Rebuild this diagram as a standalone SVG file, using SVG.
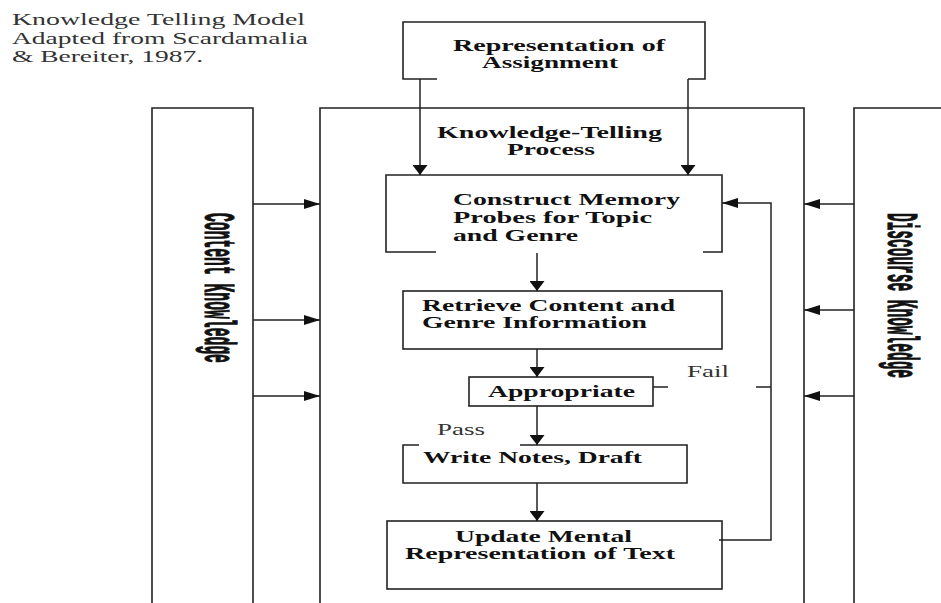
<svg xmlns="http://www.w3.org/2000/svg" width="941" height="603" viewBox="0 0 941 603">
<style>
.box{fill:none;stroke:#222;stroke-width:1.6}
.ln{fill:none;stroke:#222;stroke-width:1.5}
.t{font-family:"Liberation Serif","Times New Roman",serif;font-weight:bold;font-size:17px;fill:#111}
.r{font-family:"Liberation Serif","Times New Roman",serif;font-size:16px;fill:#333}
.v{font-family:"Liberation Mono","Courier New",monospace;font-weight:bold;font-size:44px;fill:#111;stroke:#111;stroke-width:1.2}
</style>
<defs>
<marker id="ahv" viewBox="0 0 10 15" markerWidth="10" markerHeight="15" refX="10" refY="7.5" orient="auto" markerUnits="userSpaceOnUse"><path d="M0,0 L10,7.5 L0,15 z" fill="#111"/></marker>
<marker id="ahh" viewBox="0 0 16 10" markerWidth="16" markerHeight="10" refX="16" refY="5" orient="auto" markerUnits="userSpaceOnUse"><path d="M0,0 L16,5 L0,10 z" fill="#111"/></marker>
</defs>
<rect width="941" height="603" fill="#fff"/>
<g id="title">
<text class="r" x="12" y="25" textLength="293" lengthAdjust="spacingAndGlyphs">Knowledge Telling Model</text>
<text class="r" x="12" y="43.5" textLength="296" lengthAdjust="spacingAndGlyphs">Adapted from Scardamalia</text>
<text class="r" x="12" y="62" textLength="191" lengthAdjust="spacingAndGlyphs">&amp; Bereiter, 1987.</text>
</g>
<g id="content-knowledge">
<path class="box" d="M152,603 V108 H253 V603"/>
<text class="v" transform="translate(205,213) rotate(90) scale(0.334,1)">Content Knowledge</text>
</g>
<g id="discourse-knowledge">
<path class="box" d="M854,603 V108 H945"/>
<text class="v" transform="translate(888,213) rotate(90) scale(0.329,1)">Discourse Knowledge</text>
</g>
<g id="knowledge-telling-process">
<path class="box" d="M320,603 V108 H804 V603"/>
<text class="t" x="437" y="138" textLength="225" lengthAdjust="spacingAndGlyphs">Knowledge-Telling</text>
<text class="t" x="507" y="155" textLength="88" lengthAdjust="spacingAndGlyphs">Process</text>
</g>
<g id="assignment">
<path class="box" d="M437,79 H403 V22 H705 V79 H688"/>
<text class="t" x="453" y="51" textLength="212" lengthAdjust="spacingAndGlyphs">Representation of</text>
<text class="t" x="482" y="68" textLength="136" lengthAdjust="spacingAndGlyphs">Assignment</text>
</g>
<g id="construct">
<path class="box" d="M436,252 H386 V175 H722 V252 H703"/>
<text class="t" x="453" y="205" textLength="227" lengthAdjust="spacingAndGlyphs">Construct Memory</text>
<text class="t" x="453" y="223" textLength="199" lengthAdjust="spacingAndGlyphs">Probes for Topic</text>
<text class="t" x="453" y="241" textLength="125" lengthAdjust="spacingAndGlyphs">and Genre</text>
</g>
<g id="retrieve">
<rect class="box" x="403" y="291" width="319" height="58"/>
<text class="t" x="422" y="311" textLength="253" lengthAdjust="spacingAndGlyphs">Retrieve Content and</text>
<text class="t" x="422" y="328" textLength="225" lengthAdjust="spacingAndGlyphs">Genre Information</text>
</g>
<g id="appropriate">
<rect class="box" x="469" y="377" width="184" height="29"/>
<text class="t" x="488" y="397" textLength="147" lengthAdjust="spacingAndGlyphs">Appropriate</text>
</g>
<g id="write">
<path class="box" d="M419,445 H403 V483 H687 V445 H520"/>
<text class="t" x="423" y="463" textLength="219" lengthAdjust="spacingAndGlyphs">Write Notes, Draft</text>
</g>
<g id="update">
<rect class="box" x="387" y="521" width="335" height="68"/>
<text class="t" x="455" y="542" textLength="177" lengthAdjust="spacingAndGlyphs">Update Mental</text>
<text class="t" x="405" y="559" textLength="270" lengthAdjust="spacingAndGlyphs">Representation of Text</text>
</g>
<g id="connectors">
<path class="ln" d="M420,79 V175" marker-end="url(#ahv)"/>
<path class="ln" d="M688,79 V175" marker-end="url(#ahv)"/>
<path class="ln" d="M537,253 V291" marker-end="url(#ahv)"/>
<path class="ln" d="M537,349 V377" marker-end="url(#ahv)"/>
<path class="ln" d="M537,406 V445" marker-end="url(#ahv)"/>
<path class="ln" d="M537,483 V521" marker-end="url(#ahv)"/>
<path class="ln" d="M253,204 H320" marker-end="url(#ahh)"/>
<path class="ln" d="M253,320 H320" marker-end="url(#ahh)"/>
<path class="ln" d="M253,396 H320" marker-end="url(#ahh)"/>
<path class="ln" d="M854,204 H804" marker-end="url(#ahh)"/>
<path class="ln" d="M854,310 H804" marker-end="url(#ahh)"/>
<path class="ln" d="M854,396 H804" marker-end="url(#ahh)"/>
<path class="ln" d="M719,540 H771 V203 H722" marker-end="url(#ahh)"/>
<path class="ln" d="M653,387 H668 M756,387 H771"/>
<text class="r" x="687" y="377" textLength="42" lengthAdjust="spacingAndGlyphs">Fail</text>
<text class="r" x="437" y="435" textLength="48" lengthAdjust="spacingAndGlyphs">Pass</text>
</g>
</svg>
